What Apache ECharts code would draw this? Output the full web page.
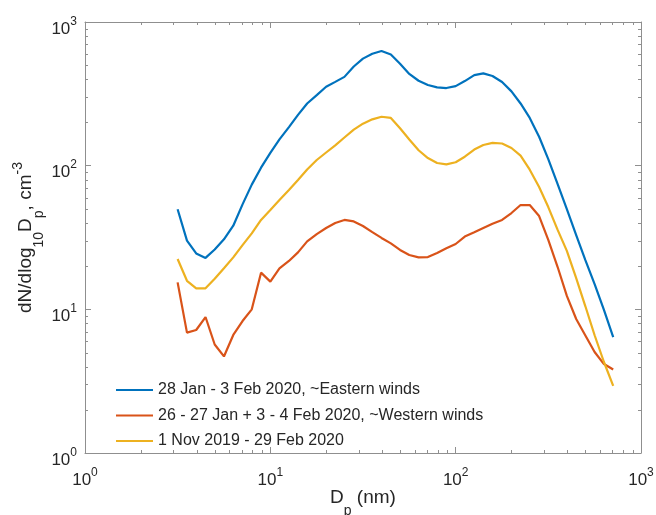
<!DOCTYPE html>
<html>
<head>
<meta charset="utf-8">
<script src="https://cdn.jsdelivr.net/npm/echarts@6/dist/echarts.min.js"></script>
<style>
  html, body { margin: 0; padding: 0; background: #ffffff; }
  #chart { width: 656px; height: 515px; }
</style>
</head>
<body>
<div id="chart"></div>
<script>
// Particle diameter bins, nm
const diameters = [
  3.16, 3.55, 3.98, 4.47, 5.01, 5.62, 6.31, 7.08, 7.94, 8.91,
  10.0, 11.2, 12.6, 14.1, 15.8, 17.8, 20.0, 22.4, 25.1, 28.2,
  31.6, 35.5, 39.8, 44.7, 50.1, 56.2, 63.1, 70.8, 79.4, 89.1,
  100, 112, 126, 141, 158, 178, 200, 224, 251, 282,
  316, 355, 398, 447, 501, 562, 631, 708
];

// dN/dlog10Dp, cm^-3
const easternWinds = [
  49.7, 30.1, 24.5, 22.8, 26.1, 30.7, 38.2, 53.8, 73.8, 96.8,
  122.7, 152.4, 185.5, 225.5, 271, 310, 354, 383, 415, 490,
  556, 601, 629, 594, 512, 435, 390, 364, 351, 347,
  358, 388, 427, 439, 421, 382, 329, 271, 215, 159,
  111, 74.5, 49.9, 32.9, 22.0, 15.0, 9.9, 6.4
];

const westernWinds = [
  15.4, 6.88, 7.18, 8.84, 5.69, 4.70, 6.63, 8.29, 10.0, 18.0,
  15.6, 19.3, 21.7, 24.9, 29.7, 33.4, 36.8, 39.9, 41.9, 40.9,
  38.0, 34.5, 31.4, 28.8, 25.9, 23.9, 23.0, 23.1, 24.7, 26.6,
  28.5, 32.1, 34.4, 36.8, 39.4, 41.9, 46.8, 53.2, 53.2, 44.6,
  30.4, 19.7, 12.4, 8.57, 6.58, 5.05, 4.16, 3.81
];

const wholePeriod = [
  22.4, 15.8, 14.0, 14.0, 16.3, 19.3, 23.0, 28.0, 33.8, 41.9,
  49.1, 57.7, 67.7, 79.5, 94.1, 109.5, 123.5, 138.6, 157, 178,
  196, 210, 219, 215, 182, 152, 128, 113, 104.4, 102,
  105.7, 115.4, 129.4, 139.3, 144, 142.6, 132.7, 117.3, 93.7, 71,
  51.5, 35.7, 25.5, 16.5, 10.5, 6.6, 4.3, 2.93
];

const seriesNames = [
  '28 Jan - 3 Feb 2020, ~Eastern winds',
  '26 - 27 Jan + 3 - 4 Feb 2020, ~Western winds',
  '1 Nov 2019 - 29 Feb 2020'
];
const seriesColors = ['#0072BD', '#D95319', '#EDB120'];
const seriesValues = [easternWinds, westernWinds, wholePeriod];

// Axis range (decades)
const axisMin = 1;
const axisMax = 1000;

const FONT = '"Liberation Sans", Arial, Helvetica, sans-serif';
const TEXT = '#262626';
const BOX = '#8f8f8f';

// Intermediate ticks 2..9 within each decade
const minorValues = [];
for (let d = axisMin; d < axisMax; d *= 10) {
  for (let m = 2; m <= 9; m++) minorValues.push(m * d);
}

function powerLabel(v) {
  const e = Math.round(Math.log10(v));
  return '{b|10}{sup|' + e + '}';
}

const labelRich = {
  b: { fontSize: 17, fontFamily: FONT, color: TEXT, lineHeight: 22, verticalAlign: 'bottom' },
  sup: { fontSize: 12, fontFamily: FONT, color: TEXT, lineHeight: 12, verticalAlign: 'top' }
};

const nameRich = {
  b: { fontSize: 19, fontFamily: FONT, color: TEXT, lineHeight: 41, verticalAlign: 'middle' },
  sub: { fontSize: 14, fontFamily: FONT, color: TEXT, lineHeight: 41, verticalAlign: 'bottom' },
  sup: { fontSize: 14, fontFamily: FONT, color: TEXT, lineHeight: 41, verticalAlign: 'top', padding: [5.5, 0, 0, 0] }
};

function logAxis(extra) {
  return Object.assign({
    type: 'log',
    logBase: 10,
    min: axisMin,
    max: axisMax,
    splitLine: { show: false },
    axisLine: { show: true, lineStyle: { color: BOX, width: 1 } },
    axisTick: { show: true, inside: true, length: 6, lineStyle: { color: BOX, width: 1 } },
    minorTick: { show: false }
  }, extra);
}

const lineSeries = seriesNames.map((name, i) => ({
  name: name,
  type: 'line',
  xAxisIndex: 0,
  yAxisIndex: 0,
  data: diameters.map((d, j) => [d, seriesValues[i][j]]),
  showSymbol: false,
  symbol: 'none',
  smooth: false,
  lineStyle: { color: seriesColors[i], width: 2.2 },
  itemStyle: { color: seriesColors[i] },
  z: 3 + i
}));

// Short inward marks for the intermediate log ticks on all four sides
const minorTickSeriesX = {
  type: 'custom',
  xAxisIndex: 0,
  yAxisIndex: 0,
  silent: true,
  clip: false,
  data: minorValues.map(v => [v, axisMin]),
  renderItem: function (params, api) {
    const p = api.coord([api.value(0), api.value(1)]);
    const cs = params.coordSys;
    const x = Math.round(p[0]) + 0.5;
    return {
      type: 'group',
      children: [
        { type: 'line', shape: { x1: x, y1: cs.y + cs.height, x2: x, y2: cs.y + cs.height - 3 }, style: { stroke: BOX, lineWidth: 1 } },
        { type: 'line', shape: { x1: x, y1: cs.y, x2: x, y2: cs.y + 3 }, style: { stroke: BOX, lineWidth: 1 } }
      ]
    };
  },
  z: 2
};

const minorTickSeriesY = {
  type: 'custom',
  xAxisIndex: 0,
  yAxisIndex: 0,
  silent: true,
  clip: false,
  data: minorValues.map(v => [axisMin, v]),
  renderItem: function (params, api) {
    const p = api.coord([api.value(0), api.value(1)]);
    const cs = params.coordSys;
    const y = Math.round(p[1]) + 0.5;
    return {
      type: 'group',
      children: [
        { type: 'line', shape: { x1: cs.x, y1: y, x2: cs.x + 3, y2: y }, style: { stroke: BOX, lineWidth: 1 } },
        { type: 'line', shape: { x1: cs.x + cs.width, y1: y, x2: cs.x + cs.width - 3, y2: y }, style: { stroke: BOX, lineWidth: 1 } }
      ]
    };
  },
  z: 2
};

const option = {
  backgroundColor: '#ffffff',
  animation: false,
  grid: { left: 85, top: 22, right: 15, bottom: 62, containLabel: false, outerBoundsMode: 'none' },
  xAxis: [
    logAxis({
      position: 'bottom',
      name: '{b|D}{sub|p}{b| (nm)}',
      nameLocation: 'middle',
      nameGap: 24,
      nameMoveOverlap: false,
      nameTextStyle: { rich: nameRich },
      axisLabel: { margin: 14, formatter: powerLabel, rich: labelRich }
    }),
    logAxis({ position: 'top', axisLabel: { show: false } })
  ],
  yAxis: [
    logAxis({
      position: 'left',
      name: '{b|dN/dlog}{sub|10}{b|D}{sub|p}{b|, cm}{sup|-3}',
      nameLocation: 'middle',
      nameRotate: 90,
      nameGap: 38.5,
      nameMoveOverlap: false,
      nameTextStyle: { rich: nameRich },
      axisLabel: { margin: 8, padding: [9, 0, 0, 0], formatter: powerLabel, rich: labelRich }
    }),
    logAxis({ position: 'right', axisLabel: { show: false } })
  ],
  legend: {
    data: seriesNames,
    orient: 'vertical',
    left: 116,
    top: 382,
    padding: 0,
    itemWidth: 37,
    itemHeight: 2.2,
    itemGap: 9.5,
    icon: 'rect',
    textStyle: { fontSize: 16, fontFamily: FONT, color: TEXT, lineHeight: 16 }
  },
  series: lineSeries.concat([minorTickSeriesX, minorTickSeriesY])
};

const chart = echarts.init(document.getElementById('chart'), null, { renderer: 'canvas' });
chart.setOption(option);
</script>
</body>
</html>
